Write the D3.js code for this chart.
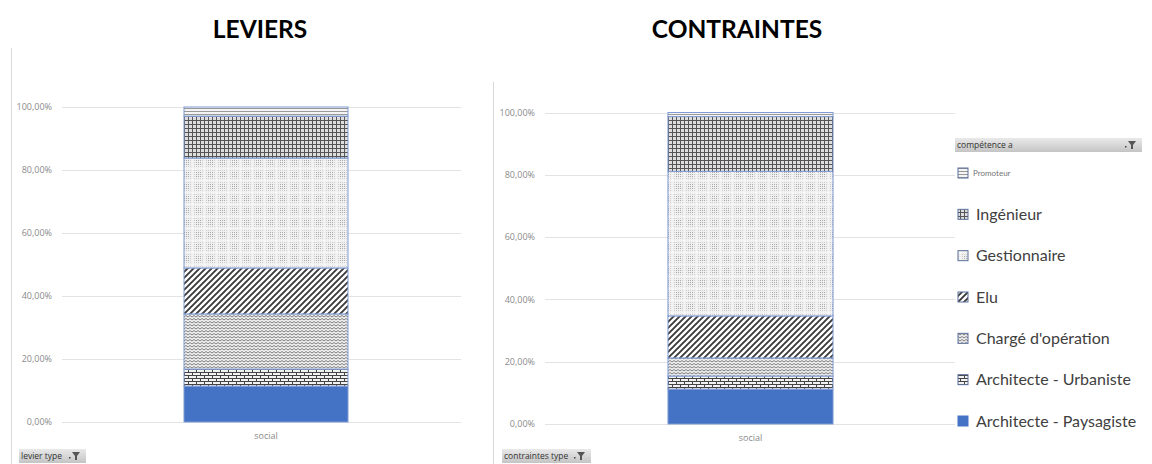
<!DOCTYPE html>
<html><head><meta charset="utf-8">
<script src="https://cdn.jsdelivr.net/npm/d3@7"></script>
<style>
html,body{margin:0;padding:0;background:#fff;}
svg{display:block;font-family:"Open Sans","Liberation Sans",sans-serif;}
</style></head>
<body>
<svg id="chart" width="1152" height="464"></svg>
<script>
const categories = ["social"];
const series = ["Architecte - Paysagiste","Architecte - Urbaniste","Chargé d'opération","Elu","Gestionnaire","Ingénieur","Promoteur"];
const leviersValues = [11.4, 5.4, 17.5, 14.6, 34.9, 13.3, 2.9];
const contraintesValues = [11.2, 4.2, 5.8, 13.5, 46.4, 17.6, 1.3];
const tickValues = [0, 20, 40, 60, 80, 100];
const patternIds = ["p0","p1","p2","p3","p4","p5","p6"];

const svg = d3.select("#chart");
const defs = svg.append("defs");

function pat(id,w,h){return defs.append("pattern").attr("id",id).attr("patternUnits","userSpaceOnUse").attr("width",w).attr("height",h);}
// p0 solid
pat("p0",4,4).append("rect").attr("width",4).attr("height",4).attr("fill","#4472C4");
// p1 brick
{const p=pat("p1",8,6);
 p.append("rect").attr("width",8).attr("height",6).attr("fill","#f2f2f2");
 p.append("path").attr("d","M0,0.5H8M0,3.5H8M0.5,0V3M4.5,3V6").attr("stroke","#444").attr("stroke-width",1).attr("fill","none");}
// p2 zigzag
{const p=pat("p2",4,3);
 p.append("rect").attr("width",4).attr("height",3).attr("fill","#eeeeee");
 p.append("path").attr("d","M0,2L2,0.5L4,2").attr("stroke","#6f6f6f").attr("stroke-width",0.9).attr("fill","none");}
// p3 wide diagonal
{const p=pat("p3",6,6);
 p.append("rect").attr("width",6).attr("height",6).attr("fill","#fff");
 p.append("path").attr("d","M-1.5,1.5L1.5,-1.5M0,6L6,0M4.5,7.5L7.5,4.5").attr("stroke","#3a3a3a").attr("stroke-width",1.9);}
// p4 dotted (light)
{const p=pat("p4",12,12);
 p.append("rect").attr("width",12).attr("height",12).attr("fill","#f0f0f0");
 for(let i=0;i<12;i+=2)for(let j=0;j<12;j+=2){
   const c=(i>=4&&i<10&&j>=4&&j<10)?"#a9a9a9":"#cfcfcf";
   p.append("rect").attr("x",i).attr("y",j).attr("width",1).attr("height",1).attr("fill",c);}
 p.append("rect").attr("x",0).attr("y",0).attr("width",12).attr("height",1).attr("fill","#fff").attr("opacity",0.6);
 p.append("rect").attr("x",0).attr("y",0).attr("width",1).attr("height",12).attr("fill","#fff").attr("opacity",0.6);}
// p5 dense grid
{const p=pat("p5",4,4);
 p.append("rect").attr("width",4).attr("height",4).attr("fill","#dedede");
 p.append("path").attr("d","M0,0.5H4M0.5,0V4").attr("stroke","#555").attr("stroke-width",1);}
// p6 horizontal lines
{const p=pat("p6",3,3);
 p.append("rect").attr("width",3).attr("height",3).attr("fill","#f4f4f4");
 p.append("path").attr("d","M0,0.5H3").attr("stroke","#999").attr("stroke-width",1);}

const fmt = v => v.toFixed(2).replace(".", ",") + "%";

function drawChart(cfg){
  const y = d3.scaleLinear().domain([0,100]).range([cfg.y0, cfg.y1]);
  const x = d3.scaleBand().domain(categories).range([cfg.xl, cfg.xr]).paddingInner(0).paddingOuter(cfg.pad);
  const g = svg.append("g");
  g.append("line").attr("x1",cfg.frameX).attr("x2",cfg.frameX).attr("y1",cfg.frameY).attr("y2",464).attr("stroke","#d9d9d9").attr("stroke-width",1);
  g.selectAll(".grid").data(tickValues).join("line")
    .attr("x1",cfg.gx1).attr("x2",cfg.gx2)
    .attr("y1",d=>Math.round(y(d))+0.5).attr("y2",d=>Math.round(y(d))+0.5)
    .attr("stroke","#e3e3e3").attr("stroke-width",1.2);
  const axis = d3.axisLeft(y).tickValues(tickValues).tickFormat(fmt).tickSize(0).tickPadding(0);
  const ag = g.append("g").attr("transform",`translate(${cfg.labelX},0)`).call(axis);
  ag.select(".domain").remove();
  ag.selectAll("text").attr("fill","#8a8a8a").attr("font-size",9).attr("font-family","'Open Sans',sans-serif");
  const row = {cat: categories[0]};
  series.forEach((s,i)=>row[s]=cfg.values[i]);
  const stacked = d3.stack().keys(series)([row]);
  stacked.forEach((layer,i)=>{
    g.selectAll(null).data(layer).join("rect")
      .attr("x",d=>x(d.data.cat)).attr("width",x.bandwidth())
      .attr("y",d=>y(d[1])).attr("height",d=>y(d[0])-y(d[1]))
      .attr("fill",`url(#${patternIds[i]})`)
      .attr("stroke","#7f9bd3").attr("stroke-width",1);
  });
  g.selectAll(".cat").data(categories).join("text")
    .attr("x",d=>x(d)+x.bandwidth()/2).attr("y",cfg.y0+17)
    .attr("text-anchor","middle").attr("font-size",9).attr("fill","#8a8a8a").text(d=>d);
  g.append("text").attr("x",cfg.titleX).attr("y",38).attr("text-anchor","middle")
    .attr("font-family","Lato,'Open Sans',sans-serif").attr("font-weight","bold").attr("font-size",24.5).attr("fill","#000").text(cfg.title);
  filterButton(g, cfg.btnX, 449, cfg.btnW, 14, cfg.btnText);
}

function filterButton(g,x0,y0,w,h,label){
  const gid = "grad"+Math.round(x0);
  const gr = defs.append("linearGradient").attr("id",gid).attr("x1",0).attr("x2",0).attr("y1",0).attr("y2",1);
  gr.append("stop").attr("offset","0%").attr("stop-color","#e9e9e9");
  gr.append("stop").attr("offset","100%").attr("stop-color","#c4c4c4");
  g.append("rect").attr("x",x0).attr("y",y0).attr("width",w).attr("height",h).attr("fill",`url(#${gid})`);
  g.append("text").attr("x",x0+2).attr("y",y0+10).attr("font-size",8.5).attr("fill","#333").text(label);
  const fx = x0+w-10;
  g.append("rect").attr("x",fx-7).attr("y",y0+8).attr("width",1.5).attr("height",1.5).attr("fill","#444");
  g.append("path").attr("d",`M${fx-4},${y0+3}H${fx+4}L${fx+1},${y0+7}V${y0+11}H${fx-1}V${y0+7}Z`).attr("fill","#555");
}

drawChart({values:leviersValues, y0:422, y1:107, xl:62, xr:470, pad:0.744, gx1:62, gx2:461,
  labelX:52, frameX:11.5, frameY:48, title:"LEVIERS", titleX:260, btnX:19, btnW:67, btnText:"levier type"});
drawChart({values:contraintesValues, y0:424, y1:112.5, xl:545, xr:956, pad:0.745, gx1:545, gx2:955,
  labelX:535, frameX:493.5, frameY:82, title:"CONTRAINTES", titleX:737, btnX:502, btnW:89, btnText:"contraintes type"});

{
  const lg = svg.append("g");
  filterButton(lg, 955, 138, 187, 14, "compétence a");
  const legendOrder = series.slice().reverse();
  const ly = d3.scalePoint().domain(legendOrder).range([173,421]);
  legendOrder.forEach((s)=>{
    const i = series.indexOf(s);
    const small = s==="Promoteur";
    const yy = ly(s);
    lg.append("rect").attr("x",958).attr("y",yy-5).attr("width",10).attr("height",10)
      .attr("fill",`url(#${patternIds[i]})`).attr("stroke", i===0?"#4472C4":"#5b6f9a").attr("stroke-width",1);
    lg.append("text").attr("x",small?973:976).attr("y",yy).attr("dy","0.35em")
      .attr("font-size",small?8:16).attr("fill",small?"#777":"#404040")
      .attr("font-family","Lato,'Open Sans',sans-serif").text(s);
  });
}
</script>
</body></html>
